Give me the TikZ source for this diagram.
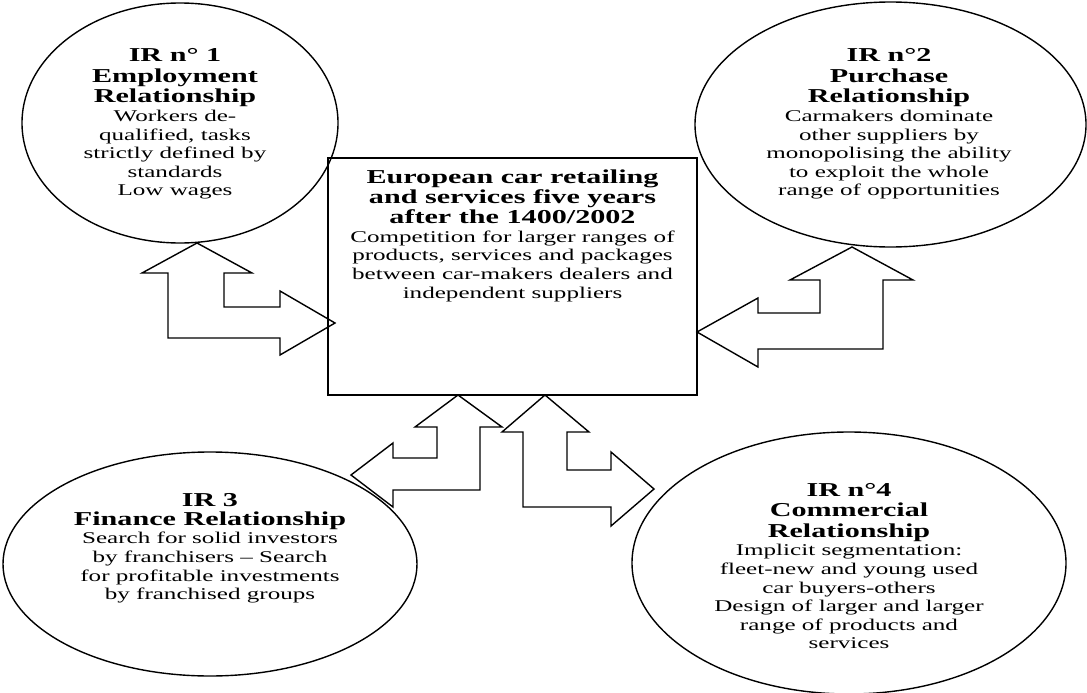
\documentclass[tikz,border=0pt]{standalone}
\usepackage{fontspec}
\setmainfont{Liberation Serif}
\usetikzlibrary{shapes.geometric}
\newcommand\ttlfont{\fontsize{19.7}{18.6}\selectfont\bfseries}
\newcommand\bodyfont{\fontsize{16.4}{18.6}\selectfont}
\begin{document}
\begin{tikzpicture}[x=1pt,y=-1pt,
  bubble/.style={draw, ellipse, line width=1.4pt, inner sep=0pt},
  blurb/.style={align=center, font=\bodyfont, inner sep=0pt, anchor=north, xscale=1.53},
  blockarrow/.style={draw, line width=1.4pt, line join=miter}]
\useasboundingbox (0,0) rectangle (1087,693);

% the four relationship bubbles and the central box
\node[bubble, minimum width=316pt, minimum height=240pt] (ir1) at (180,123) {};
\node[bubble, minimum width=391pt, minimum height=245pt] (ir2) at (890.5,124.5) {};
\node[bubble, minimum width=414pt, minimum height=224pt] (ir3) at (210,564) {};
\node[bubble, minimum width=434pt, minimum height=262pt] (ir4) at (849,563) {};
\node[draw, line width=1.8pt, minimum width=369pt, minimum height=237pt, inner sep=0pt] (hub) at (512.5,276.5) {};

% texts
\node[blurb] (t1) at (175,48.4) {{\ttlfont IR n° 1}\\[2pt]{\ttlfont Employment}\\[2pt]{\ttlfont Relationship}\\
  Workers de-\\qualified, tasks\\strictly defined by\\standards\\Low wages};
\node[blurb] (t2) at (889,48.4) {{\ttlfont IR n°2}\\[2pt]{\ttlfont Purchase}\\[2pt]{\ttlfont Relationship}\\
  Carmakers dominate\\other suppliers by\\monopolising the ability\\to exploit the whole\\range of opportunities};
\node[blurb] (t3) at (210,493.4) {{\ttlfont IR 3}\\{\ttlfont Finance Relationship}\\
  Search for solid investors\\by franchisers – Search\\for profitable investments\\by franchised groups};
\node[blurb] (t4) at (849,482.7) {{\ttlfont IR n°4}\\[2pt]{\ttlfont Commercial}\\[2pt]{\ttlfont Relationship}\\
  Implicit segmentation:\\fleet-new and young used\\car buyers-others\\Design of larger and larger\\range of products and\\services};
\node[blurb] (th) at (512.5,169.7) {{\ttlfont European car retailing}\\[1.5pt]{\ttlfont and services five years}\\[1.5pt]{\ttlfont after the 1400/2002}\\
  Competition for larger ranges of\\products, services and packages\\between car-makers dealers and\\independent suppliers};

% bent double-headed block arrows
\draw[blockarrow] (197,243) -- (252,273) -- (224,273) -- (224,307) -- (280,307) -- (280,291)
  -- (335,323) -- (280,355) -- (280,338) -- (168,338) -- (168,273) -- (142,273) -- cycle;
\draw[blockarrow] (852,247) -- (913,280) -- (883,280) -- (883,349) -- (758,349) -- (758,367)
  -- (697,332) -- (758,298) -- (758,313) -- (820,313) -- (820,280) -- (790,280) -- cycle;
\draw[blockarrow] (458,395) -- (502,427) -- (480,427) -- (480,490) -- (393,490) -- (393,507)
  -- (351,475) -- (393,443) -- (393,458) -- (437,458) -- (437,427) -- (415,427) -- cycle;
\draw[blockarrow] (545,395) -- (589,432) -- (567,432) -- (567,470) -- (611,470) -- (611,452)
  -- (654,489) -- (611,526) -- (611,507) -- (523,507) -- (523,432) -- (502,432) -- cycle;
\end{tikzpicture}
\end{document}
